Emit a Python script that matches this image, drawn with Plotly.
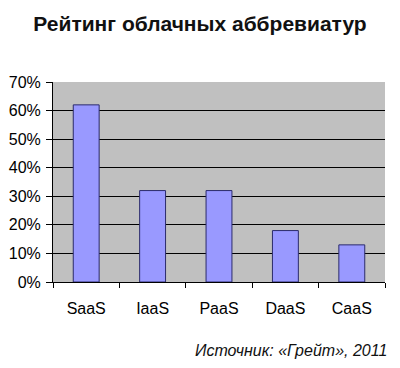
import plotly.graph_objects as go

categories = ["SaaS", "IaaS", "PaaS", "DaaS", "CaaS"]
values = [0.62, 0.32, 0.32, 0.18, 0.13]
y_ticks = [0, 0.1, 0.2, 0.3, 0.4, 0.5, 0.6, 0.7]
y_tick_labels = ["0%", "10%", "20%", "30%", "40%", "50%", "60%", "70%"]
title_text = "Рейтинг облачных аббревиатур"
source_text = "Источник: «Грейт», 2011"

W, H = 400, 368
L, R, T, B = 53, 15, 82, 86
pw, ph = W - L - R, H - T - B

fig = go.Figure(go.Bar(
    x=categories, y=values, width=0.39,
    marker=dict(color="#9999ff", line=dict(color="#2b2b6b", width=1)),
))

fig.update_layout(
    width=W, height=H,
    margin=dict(l=L, r=R, t=T, b=B),
    paper_bgcolor="white", plot_bgcolor="#c0c0c0",
    showlegend=False,
    font=dict(family="Liberation Sans, Arial, sans-serif", color="black", size=16),
    title=dict(text="<b>" + title_text + "</b>", x=0.5, xanchor="center",
               y=1 - 24 / H, yanchor="middle",
               font=dict(size=21, family="Liberation Sans, Arial, sans-serif", color="#111")),
    annotations=[dict(text="<i>" + source_text + "</i>", xref="paper", yref="paper",
                      x=(389 - L) / pw, y=-(350 - (H - B)) / ph,
                      xanchor="right", yanchor="middle",
                      showarrow=False, font=dict(size=16, color="#111"))],
)

fig.update_xaxes(showline=True, linecolor="black", linewidth=1, ticks="outside",
                 tickson="boundaries", ticklen=5, tickcolor="black", showgrid=False,
                 ticklabelstandoff=12, automargin=False)
fig.update_yaxes(range=[0, 0.7], tickvals=y_ticks, ticktext=y_tick_labels,
                 showline=True, linecolor="black", linewidth=1, ticks="outside",
                 ticklen=6, tickcolor="black", gridcolor="black", gridwidth=1,
                 zeroline=False, ticklabelstandoff=2, automargin=False)

fig.write_html("out.html", config={"displayModeBar": False},
               post_script="document.body.style.margin='0';")
